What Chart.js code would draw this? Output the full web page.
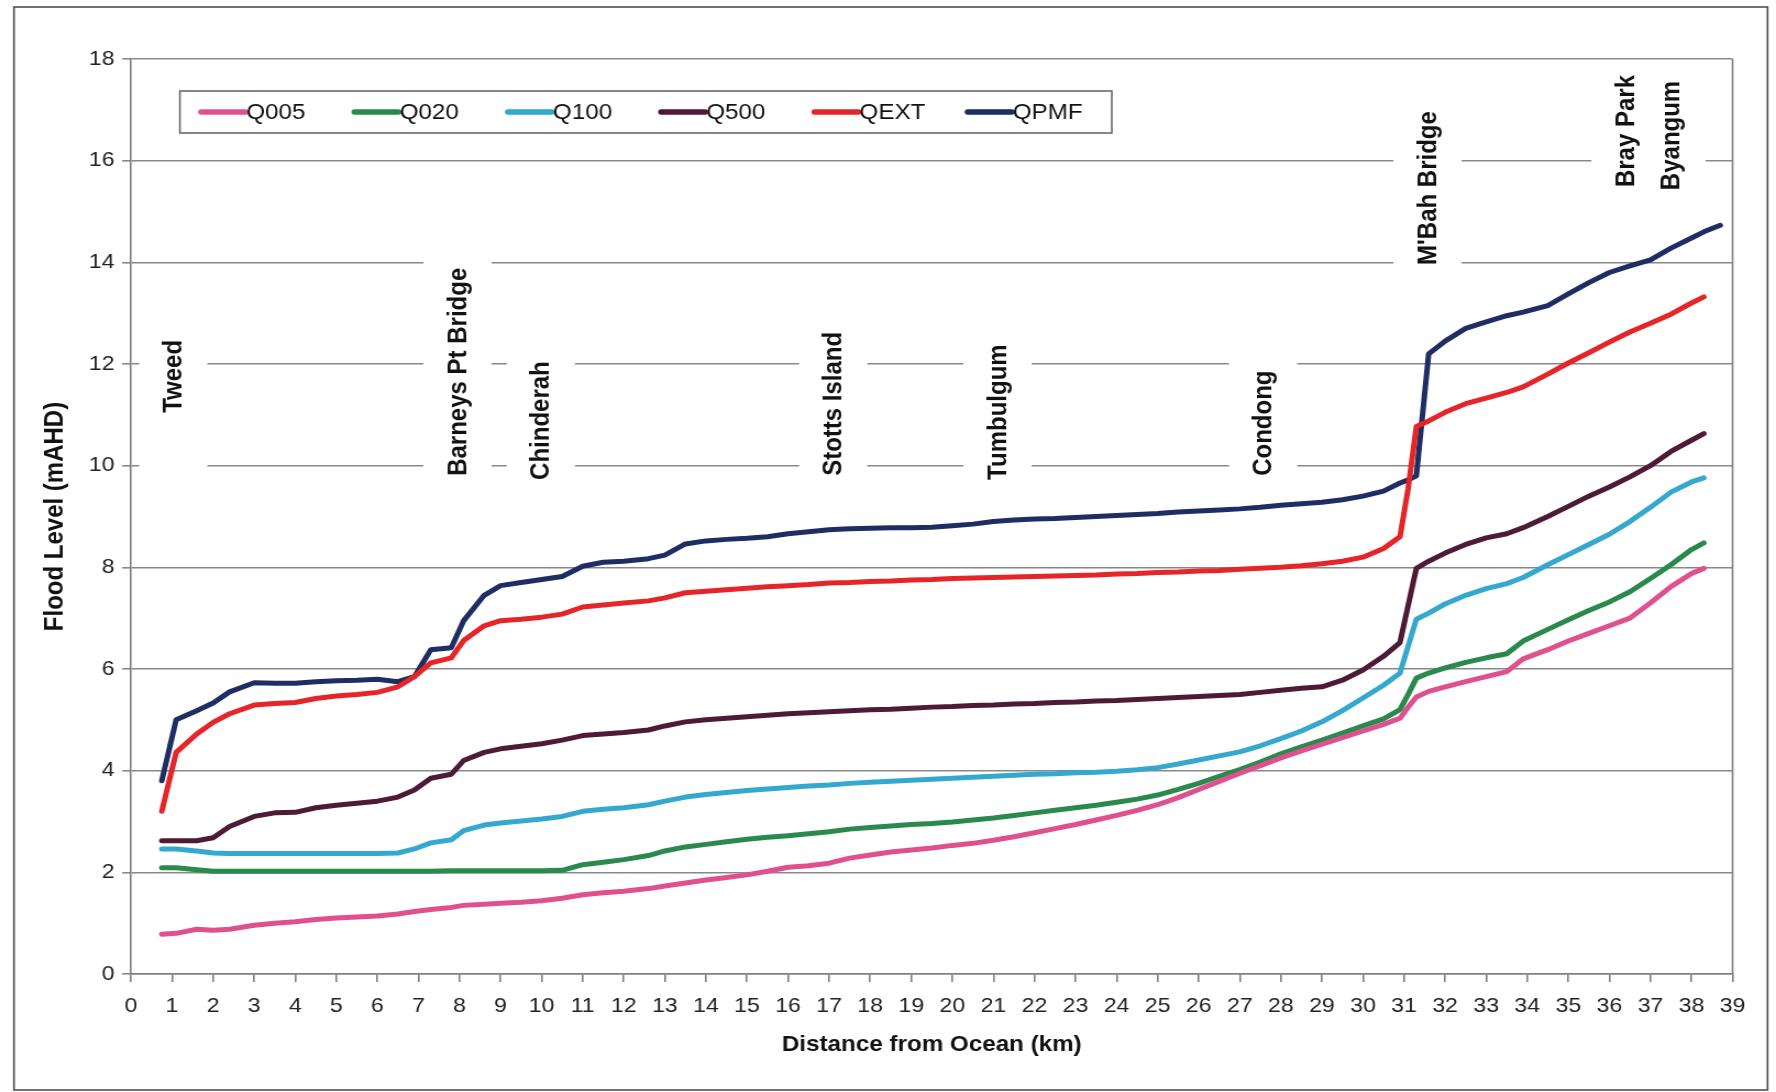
<!DOCTYPE html>
<html><head><meta charset="utf-8">
<script src="https://cdn.jsdelivr.net/npm/chart.js@4/dist/chart.umd.min.js"></script>
<style>
html,body{margin:0;padding:0;background:#fff;overflow:hidden}
</style>
</head><body>
<canvas id="c" width="1615" height="1092" style="display:block;width:1776px;height:1092px"></canvas>
<script>
// ---------------- data ----------------
const distanceKm = [0.75,1.1,1.6,2.0,2.4,3.0,3.5,4.0,4.5,5.0,
  5.5,6.0,6.5,6.9,7.3,7.8,8.1,8.6,9.0,9.5,
  10.0,10.5,11.0,11.5,12.0,12.6,13.0,13.5,14.0,14.5,
  15.0,15.5,16.0,16.5,17.0,17.5,18.0,18.5,19.0,19.5,
  20.0,20.5,21.0,21.5,22.0,22.5,23.0,23.5,24.0,24.5,
  25.0,25.5,26.0,26.5,27.0,27.5,28.0,28.5,29.0,29.5,
  30.0,30.5,30.9,31.1,31.3,31.6,32.0,32.5,33.0,33.5,
  33.9,34.5,35.0,35.5,36.0,36.5,37.0,37.5,38.0,38.3,38.7];

const q005 = [0.78,0.80,0.88,0.86,0.88,0.96,1.00,1.03,1.07,1.10,
  1.12,1.14,1.18,1.23,1.27,1.31,1.35,1.37,1.39,1.41,
  1.44,1.49,1.56,1.60,1.63,1.68,1.73,1.79,1.85,1.90,
  1.95,2.02,2.10,2.13,2.18,2.28,2.34,2.40,2.44,2.48,
  2.53,2.57,2.63,2.70,2.78,2.86,2.94,3.03,3.12,3.22,
  3.33,3.47,3.63,3.79,3.95,4.10,4.25,4.39,4.52,4.65,
  4.78,4.91,5.03,5.25,5.45,5.56,5.65,5.75,5.85,5.95,
  6.20,6.38,6.55,6.70,6.85,7.00,7.30,7.62,7.88,7.98,null];

const q020 = [2.09,2.09,2.05,2.02,2.02,2.02,2.02,2.02,2.02,2.02,
  2.02,2.02,2.02,2.02,2.02,2.03,2.03,2.03,2.03,2.03,
  2.03,2.04,2.15,2.20,2.25,2.33,2.42,2.50,2.55,2.60,
  2.65,2.69,2.72,2.76,2.80,2.85,2.88,2.91,2.94,2.96,
  2.99,3.03,3.07,3.12,3.17,3.22,3.27,3.32,3.38,3.44,
  3.52,3.63,3.75,3.89,4.02,4.17,4.33,4.47,4.60,4.74,
  4.88,5.02,5.20,5.50,5.82,5.92,6.02,6.13,6.22,6.30,
  6.55,6.78,6.97,7.15,7.32,7.52,7.78,8.05,8.35,8.48,null];

const q100 = [2.46,2.46,2.42,2.38,2.37,2.37,2.37,2.37,2.37,2.37,
  2.37,2.37,2.38,2.46,2.58,2.64,2.82,2.93,2.97,3.01,
  3.05,3.10,3.20,3.24,3.27,3.33,3.40,3.48,3.53,3.57,
  3.61,3.64,3.67,3.70,3.72,3.75,3.77,3.79,3.81,3.83,
  3.85,3.87,3.89,3.91,3.93,3.94,3.96,3.97,3.99,4.02,
  4.06,4.13,4.21,4.29,4.37,4.49,4.63,4.78,4.96,5.18,
  5.43,5.68,5.92,6.45,6.98,7.10,7.28,7.45,7.58,7.68,
  7.80,8.05,8.25,8.45,8.65,8.90,9.18,9.48,9.68,9.76,null];

const q500 = [2.62,2.62,2.62,2.68,2.90,3.10,3.17,3.18,3.27,3.32,
  3.36,3.40,3.48,3.62,3.85,3.93,4.20,4.36,4.43,4.48,
  4.53,4.60,4.69,4.72,4.75,4.80,4.88,4.96,5.00,5.03,
  5.06,5.09,5.12,5.14,5.16,5.18,5.20,5.21,5.23,5.25,
  5.26,5.28,5.29,5.31,5.32,5.34,5.35,5.37,5.38,5.40,
  5.42,5.44,5.46,5.48,5.50,5.54,5.58,5.62,5.65,5.78,
  5.98,6.25,6.52,7.25,7.98,8.12,8.28,8.45,8.58,8.66,
  8.78,9.00,9.20,9.40,9.58,9.78,10.00,10.28,10.50,10.63,null];

const qext = [3.20,4.36,4.72,4.95,5.12,5.29,5.32,5.34,5.42,5.47,
  5.50,5.54,5.65,5.85,6.12,6.22,6.56,6.85,6.95,6.98,
  7.02,7.08,7.22,7.26,7.30,7.34,7.40,7.50,7.53,7.56,
  7.59,7.62,7.64,7.66,7.69,7.70,7.72,7.73,7.75,7.76,
  7.78,7.79,7.80,7.81,7.82,7.83,7.84,7.85,7.87,7.88,
  7.90,7.91,7.93,7.94,7.96,7.98,8.00,8.03,8.07,8.12,
  8.20,8.37,8.60,9.55,10.77,10.88,11.05,11.22,11.33,11.44,
  11.55,11.80,12.02,12.22,12.43,12.63,12.80,12.98,13.20,13.32,null];

const qpmf = [3.80,5.00,5.18,5.33,5.55,5.73,5.72,5.72,5.75,5.77,
  5.78,5.80,5.75,5.85,6.38,6.42,6.95,7.45,7.64,7.70,
  7.76,7.82,8.02,8.10,8.12,8.17,8.24,8.46,8.52,8.55,
  8.57,8.60,8.66,8.70,8.74,8.76,8.77,8.78,8.78,8.79,
  8.82,8.85,8.90,8.93,8.95,8.96,8.98,9.00,9.02,9.04,
  9.06,9.09,9.11,9.13,9.15,9.18,9.22,9.25,9.28,9.33,
  9.40,9.50,9.66,9.72,9.80,12.20,12.45,12.70,12.83,12.95,
  13.02,13.15,13.38,13.60,13.80,13.93,14.05,14.28,14.48,14.60,14.73];

const seriesNames = ['Q005','Q020','Q100','Q500','QEXT','QPMF'];
const seriesValues = [q005, q020, q100, q500, qext, qpmf];

const placeNames = ['Tweed','Barneys Pt Bridge','Chinderah','Stotts Island','Tumbulgum','Condong',"M'Bah Bridge",'Bray Park','Byangum'];
const placeKm = [1.03, 7.95, 9.98, 17.1, 21.1, 27.57, 31.57, 36.39, 37.51];

const xTitle = 'Distance from Ocean (km)';
const yTitle = 'Flood Level (mAHD)';

// ---------------- styles / layout ----------------
const seriesColors = ['#E0508F','#2A8A4C','#35A8D0','#4E1A36','#E52528','#1E2D63'];
const FONT = '"Liberation Sans", Arial, Helvetica, sans-serif';
// label placement: [text start value, box bottom value, box top value]
const placeLayout = [[11.04,9.0,13.0],[9.8,9.0,15.0],[9.72,9.0,13.0],[9.8,9.0,13.0],[9.72,9.0,13.0],[9.8,9.0,13.0],[13.95,13.0,17.0],[15.48,15.0,17.0],[15.42,15.0,17.0]];
const BOX_W = 62;

const frame = {
  id: 'frame',
  beforeDraw(chart) {
    const c = chart.ctx;
    c.save();
    c.fillStyle = '#fff';
    c.fillRect(0, 0, chart.width, chart.height);
    c.strokeStyle = '#505050';
    c.lineWidth = 1.6;
    c.strokeRect(12.7, 7, 1607.3 - 12.7, 1090 - 7);
    c.restore();
  }
};

const places = {
  id: 'places',
  beforeDatasetsDraw(chart) {
    const c = chart.ctx, xs = chart.scales.x, ys = chart.scales.y, a = chart.chartArea;
    c.save();
    c.strokeStyle = '#808080';
    c.lineWidth = 1.6;
    c.beginPath();
    c.moveTo(a.right, a.top);
    c.lineTo(a.right, a.bottom);
    c.stroke();
    placeNames.forEach((name, i) => {
      const x = xs.getPixelForValue(placeKm[i]);
      const [startV, b0, b1] = placeLayout[i];
      const yTop = ys.getPixelForValue(b1), yBot = ys.getPixelForValue(b0);
      c.fillStyle = '#fff';
      c.fillRect(x - BOX_W / 2, yTop, BOX_W, yBot - yTop);
    });
    placeNames.forEach((name, i) => {
      const x = xs.getPixelForValue(placeKm[i]);
      const y = ys.getPixelForValue(placeLayout[i][0]);
      c.save();
      c.translate(x, y);
      c.rotate(-Math.PI / 2);
      c.fillStyle = '#111';
      c.font = 'bold 24px ' + FONT;
      c.textAlign = 'left';
      c.textBaseline = 'middle';
      c.fillText(name, 0, 1);
      c.restore();
    });
    c.restore();
  }
};

const boxLegend = {
  id: 'boxLegend',
  afterDraw(chart) {
    const c = chart.ctx;
    const L = 163.6, T = 91, R = 1011, B = 133;
    c.save();
    c.fillStyle = '#fff';
    c.fillRect(L, T, R - L, B - T);
    c.strokeStyle = '#6a6a6a';
    c.lineWidth = 1.6;
    c.strokeRect(L, T, R - L, B - T);
    const yMid = (T + B) / 2;
    c.font = '22px ' + FONT;
    c.textAlign = 'left';
    c.textBaseline = 'middle';
    seriesNames.forEach((n, i) => {
      const x0 = 183 + 139.4 * i;
      c.strokeStyle = seriesColors[i];
      c.lineWidth = 5.5;
      c.lineCap = 'round';
      c.beginPath();
      c.moveTo(x0, yMid);
      c.lineTo(x0 + 40, yMid);
      c.stroke();
      c.fillStyle = '#111';
      c.fillText(n, x0 + 41, yMid + 1);
    });
    c.restore();
  }
};

const datasets = seriesNames.map((n, i) => ({
  label: n,
  data: distanceKm.map((x, j) => ({ x: x, y: seriesValues[i][j] })),
  borderColor: seriesColors[i],
  backgroundColor: seriesColors[i],
  borderWidth: 5,
  pointRadius: 0,
  tension: 0,
  fill: false,
  spanGaps: false,
  borderJoinStyle: 'round',
  borderCapStyle: 'round'
}));

new Chart(document.getElementById('c'), {
  type: 'line',
  data: { datasets: datasets },
  plugins: [frame, places, boxLegend],
  options: {
    responsive: false,
    animation: false,
    devicePixelRatio: 1,
    layout: { padding: { left: 20, top: 59, right: 39.5, bottom: 0 } },
    plugins: { legend: { display: false }, tooltip: { enabled: false } },
    scales: {
      x: {
        type: 'linear', min: 0, max: 39,
        ticks: { stepSize: 1, autoSkip: false, maxRotation: 0, minRotation: 0, padding: 12,
                 color: '#222', font: { family: FONT, size: 21 } },
        grid: { display: true, drawOnChartArea: false, drawTicks: true, tickLength: 8, color: '#808080', lineWidth: 1.6 },
        border: { display: true, color: '#808080', width: 1.6 },
        title: { display: true, text: xTitle, color: '#111',
                 font: { family: FONT, size: 22, weight: 'bold' }, padding: { top: 0, bottom: 34 } },
        afterFit(s) { s.height = 118; }
      },
      y: {
        min: 0, max: 18,
        ticks: { stepSize: 2, padding: 7, color: '#222', font: { family: FONT, size: 21 } },
        grid: { color: '#888888', lineWidth: 1.6, drawTicks: true, tickLength: 8 },
        border: { display: true, color: '#808080', width: 1.6 },
        title: { display: true, text: yTitle, color: '#111',
                 font: { family: FONT, size: 24, weight: 'bold' }, padding: { top: 16, bottom: 0 } },
        afterFit(s) { s.width = 99.1; }
      }
    }
  }
});
</script>
</body></html>
